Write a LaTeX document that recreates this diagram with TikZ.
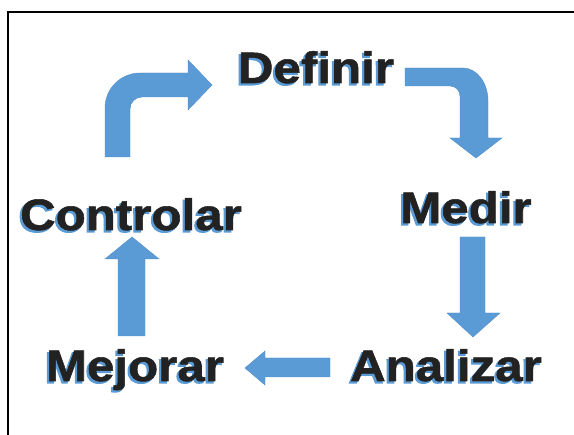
\documentclass[tikz,border=0pt]{standalone}
\usepackage{fontspec}
\setmainfont{Liberation Sans}
\newfontfamily\stagefont[FakeStretch=1.12, FakeBold=1.2]{Liberation Sans Bold}
\newfontfamily\shadowfont[FakeStretch=1.12, FakeBold=2.4]{Liberation Sans Bold}
\usepackage{xcolor}
\usepackage{tikz}
\definecolor{arrowblue}{HTML}{5B9BD5}
\definecolor{arrowedge}{HTML}{4F8CC9}
\definecolor{textdark}{HTML}{222222}
% word with a blue copy set down and left of it
\newcommand{\shadowedword}[1]{\makebox[0pt][l]{\hspace{-2pt}\raisebox{-2pt}{\textcolor{arrowblue}{\shadowfont #1}}}#1}
\tikzset{
	blockarrow/.style={fill=arrowblue, draw=arrowedge, line width=0.4pt, line join=miter},
	stage/.style={anchor=base, inner sep=0pt, font=\fontsize{44}{44}\stagefont, text=textdark},
}

\begin{document}
\begin{tikzpicture}[x=1pt, y=-1pt]
	% y runs downwards, in pixels of the page
	\useasboundingbox (0,0) rectangle (574,435);
	
	% Frame
	\draw[line width=2pt] (8,437) -- (8,12) -- (576,12);
	
	% Stages
	\foreach \name/\word/\x/\y in {definir/Definir/316/83, medir/Medir/466/223, analizar/Analizar/446/381, mejorar/Mejorar/135/381, controlar/Controlar/131/230}{
		\node[stage] (\name) at (\x,\y) {\shadowedword{\word}};
	}
	
	% Controlar -> Definir
	\draw[blockarrow] (105,157) -- (105,108) arc[start angle=180, end angle=270, radius=35]
	-- (188,73) -- (188,60) -- (212,85) -- (188,110) -- (188,97) -- (142,97)
	arc[start angle=270, end angle=180, radius=12] -- (130,157) -- cycle;
	
	% Definir -> Medir
	\draw[blockarrow] (405,68) -- (463,68) arc[start angle=270, end angle=360, x radius=25, y radius=33]
	-- (488,138) -- (502,138) -- (476,158) -- (450,138) -- (460,138) -- (460,96)
	arc[start angle=0, end angle=-90, radius=10] -- (405,86) -- cycle;
	
	% Medir -> Analizar
	\draw[blockarrow] (460,237) -- (485,237) -- (485,313) -- (500,313) -- (473,337) -- (447,313) -- (460,313) -- cycle;
	
	% Analizar -> Mejorar
	\draw[blockarrow] (330,358) -- (330,377) -- (265,377) -- (265,385) -- (245,368) -- (265,351) -- (265,358) -- cycle;
	
	% Mejorar -> Controlar
	\draw[blockarrow] (118,336) -- (118,259) -- (105,259) -- (132,237) -- (159,259) -- (145,259) -- (145,336) -- cycle;
\end{tikzpicture}
\end{document}
